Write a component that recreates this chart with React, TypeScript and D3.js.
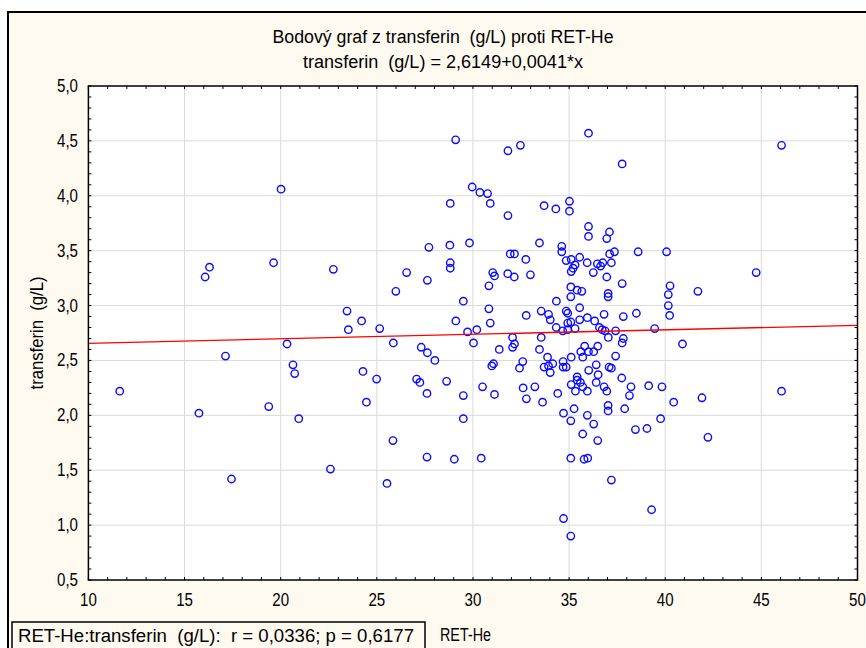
import React from "react";
import * as d3 from "d3";

// RET-He values (x) and matching transferin concentrations in g/L (y)
const retHe: number[] = [
  20.02, 16.07, 16.3, 19.63, 22.74, 20.33, 17.13, 20.64, 20.73, 11.63, 19.38, 15.75, 20.94, 22.59, 17.44,
  29.1, 31.82, 32.47, 29.96, 30.36, 30.76, 30.9, 28.82, 31.82, 29.82, 28.8, 27.71, 31.94, 32.16, 26.55,
  28.82, 28.82, 31.03, 31.12, 31.81, 32.15, 27.63,
  30.83, 25.99, 29.5, 23.45, 30.83, 24.21, 29.11, 30.9, 23.52, 25.15, 29.72, 30.2, 25.86, 30.03,
  32.06, 32.16, 32.06, 31.37, 27.31, 27.63, 28.02, 24.28, 30.98, 31.07, 32.42, 24.99, 27.07, 27.24,
  28.63, 30.5, 27.61, 29.5, 31.12, 24.46, 29.5, 25.84, 27.61, 29.03, 30.43, 25.53,
  36.01, 37.76, 35.02, 33.7, 34.31, 35.02, 36.01, 36.01, 37.1, 36.96, 33.46, 34.62, 34.62, 32.75,
  34.85, 35.11, 35.55, 35.31, 35.21, 35.11, 35.94, 36.26, 36.47, 36.64, 36.75, 37.2, 37.11, 37.36,
  38.59, 40.07, 32.99, 36.96,
  37.76, 40.25, 40.16, 41.7, 35.09, 35.42, 35.66, 37.03, 37.03, 35.09, 34.34, 40.16, 40.23, 35.55,
  32.77, 33.55, 33.93, 34.02, 34.85, 34.93, 35.95, 35.55, 36.82, 37.82, 38.5, 36.33, 35.09, 34.93,
  35.31, 34.93, 34.67, 34.33, 36.58, 36.72, 36.87, 37.42, 39.45, 33.55, 37.04, 37.82, 37.76, 40.9,
  33.46, 35.81, 35.61, 36.01, 36.28, 36.49, 35.71, 35.11, 37.42, 33.88, 32.59, 34.15, 33.93, 33.7,
  34.69, 34.69, 34.85, 34.02, 36.02, 36.41, 37.08, 37.2, 36.51, 35.42, 35.42, 37.74, 35.11, 35.59,
  35.71, 36.41, 36.82, 36.96, 38.22, 39.14, 39.83, 32.61, 33.22, 32.78, 33.62, 34.41, 35.33, 35.95,
  38.14, 40.44, 41.91, 37.03, 37.03, 37.89, 35.26, 34.71, 35.09, 35.95, 36.28, 39.76, 38.45, 39.05,
  35.71, 36.49, 42.22,
  35.09, 35.78, 35.97, 37.2, 39.29, 34.71, 35.09,
  46.05, 44.73, 46.05,
];

const transferin: number[] = [
  4.06, 3.26, 3.35, 3.39, 3.33, 2.65, 2.54, 2.46, 2.38, 2.22, 2.08, 2.02, 1.97, 1.51, 1.42,
  4.51, 4.41, 4.46, 4.08, 4.03, 4.02, 3.93, 3.93, 3.82, 3.57, 3.55, 3.53, 3.47, 3.47, 3.3,
  3.39, 3.34, 3.3, 3.27, 3.29, 3.26, 3.23,
  3.18, 3.13, 3.04, 2.95, 2.97, 2.86, 2.86, 2.84, 2.78, 2.79, 2.76, 2.78, 2.66, 2.66,
  2.71, 2.65, 2.62, 2.6, 2.62, 2.57, 2.5, 2.4, 2.45, 2.47, 2.43, 2.33, 2.33, 2.3,
  2.31, 2.26, 2.2, 2.18, 2.19, 2.12, 1.97, 1.77, 1.62, 1.6, 1.61, 1.38,
  4.57, 4.29, 3.95, 3.91, 3.88, 3.86, 3.72, 3.63, 3.67, 3.61, 3.57, 3.54, 3.49, 3.42,
  3.41, 3.42, 3.44, 3.37, 3.34, 3.31, 3.39, 3.3, 3.38, 3.36, 3.39, 3.39, 3.47, 3.49,
  3.49, 3.49, 3.28, 3.26,
  3.2, 3.18, 3.1, 3.13, 3.17, 3.14, 3.13, 3.11, 3.08, 3.08, 3.04, 3.0, 2.91, 2.98,
  2.91, 2.95, 2.92, 2.87, 2.95, 2.93, 2.89, 2.87, 2.92, 2.9, 2.93, 2.86, 2.85, 2.84,
  2.79, 2.78, 2.77, 2.8, 2.8, 2.78, 2.77, 2.77, 2.79, 2.71, 2.71, 2.7, 2.66, 2.65,
  2.6, 2.63, 2.58, 2.58, 2.58, 2.63, 2.53, 2.53, 2.54, 2.53, 2.49, 2.47, 2.45, 2.44,
  2.49, 2.44, 2.44, 2.39, 2.41, 2.46, 2.44, 2.43, 2.37, 2.35, 2.32, 2.34, 2.28, 2.3,
  2.26, 2.3, 2.26, 2.22, 2.26, 2.27, 2.26, 2.25, 2.26, 2.15, 2.12, 2.2, 2.22, 2.22,
  2.18, 2.12, 2.16, 2.09, 2.04, 2.06, 2.06, 2.02, 1.95, 2.0, 1.92, 1.97, 1.87, 1.88,
  1.83, 1.77, 1.8,
  1.61, 1.6, 1.61, 1.41, 1.14, 1.06, 0.9,
  4.46, 3.3, 2.22,
];

const xTicks: number[] = [10, 15, 20, 25, 30, 35, 40, 45, 50];
const yTicks: number[] = [0.5, 1.0, 1.5, 2.0, 2.5, 3.0, 3.5, 4.0, 4.5, 5.0];

// Fitted line: transferin = 2.6149 + 0.0041 * RET-He
const fitIntercept = 2.6149;
const fitSlope = 0.0041;

const titleText = "Bodový graf z transferin  (g/L) proti RET-He";
const subtitleText = "transferin  (g/L) = 2,6149+0,0041*x";
const xLabel = "RET-He";
const yLabel = "transferin  (g/L)";
const statsText = "RET-He:transferin  (g/L):  r = 0,0336; p = 0,6177";

const W = 866;
const H = 648;
const FONT = "'Liberation Sans', Arial, sans-serif";
const FS = 18;
const NARROW = 0.84;

type LabelProps = {
  x: number;
  y: number;
  text: string;
  anchor?: "start" | "middle" | "end";
  rotate?: number;
  width?: number;
};

// Condensed text: horizontally squeezed, or fitted to a given width
function Label({ x, y, text, anchor = "start", rotate = 0, width }: LabelProps) {
  const t = `translate(${x},${y})${rotate ? ` rotate(${rotate})` : ""}${width ? "" : ` scale(${NARROW},1)`}`;
  return (
    <text
      transform={t}
      textAnchor={anchor}
      fontSize={FS}
      fill="#000"
      style={{ whiteSpace: "pre" }}
      textLength={width}
      lengthAdjust={width ? "spacingAndGlyphs" : undefined}
    >
      {text}
    </text>
  );
}

export default function App() {
  const x = d3.scaleLinear().domain([10, 50]).range([88.4, 857.5]);
  const y = d3.scaleLinear().domain([0.5, 5]).range([580, 86]);
  const [x0, x1] = x.range();
  const [yb, yt] = y.range();

  const fmt = (v: number) => v.toFixed(1).replace(".", ",");
  const xMinor = d3.range(10, 50.001, 1);
  const yMinor = d3.range(0, 46).map((i) => 0.5 + i * 0.1);

  const fitLine = d3
    .line<number>()
    .x((v) => x(v))
    .y((v) => y(fitIntercept + fitSlope * v));

  return (
    <svg
      width={W}
      height={H}
      style={{ position: "absolute", left: 0, top: 0, display: "block" }}
      fontFamily={FONT}
    >
      <rect x={0} y={0} width={W} height={H} fill="#ffffff" />
      {/* outer panel */}
      <rect x={8} y={12} width={W + 20} height={H + 20} fill="#fffaf0" stroke="#000" strokeWidth={2} />

      <Label x={443} y={43} text={titleText} anchor="middle" width={341} />
      <Label x={443} y={68} text={subtitleText} anchor="middle" width={280} />

      {/* plot area */}
      <rect x={x0} y={yt} width={x1 - x0} height={yb - yt} fill="#ffffff" />
      {xTicks.slice(1, -1).map((t) => (
        <line key={`gx${t}`} x1={x(t)} x2={x(t)} y1={yt} y2={yb} stroke="#dadada" strokeWidth={1} />
      ))}
      {yTicks.slice(1, -1).map((t) => (
        <line key={`gy${t}`} x1={x0} x2={x1} y1={y(t)} y2={y(t)} stroke="#dadada" strokeWidth={1} />
      ))}

      {/* points */}
      <g fill="none" stroke="#0a0aff" strokeWidth={1.4}>
        {retHe.map((v, i) => (
          <circle key={i} cx={x(v)} cy={y(transferin[i])} r={3.7} />
        ))}
      </g>

      {/* regression line */}
      <path d={fitLine([10, 50]) ?? ""} fill="none" stroke="#ff0000" strokeWidth={1.3} />

      {/* minor and major ticks, pointing inward */}
      <g stroke="#000" strokeWidth={1}>
        {xMinor.map((t) => (
          <React.Fragment key={`tx${t}`}>
            <line x1={x(t)} x2={x(t)} y1={yt} y2={yt + 3} />
            <line x1={x(t)} x2={x(t)} y1={yb} y2={yb - 3} />
          </React.Fragment>
        ))}
        {yMinor.map((t) => (
          <React.Fragment key={`ty${t.toFixed(1)}`}>
            <line x1={x0} x2={x0 + 3} y1={y(t)} y2={y(t)} />
            <line x1={x1} x2={x1 - 3} y1={y(t)} y2={y(t)} />
          </React.Fragment>
        ))}
      </g>
      <rect x={x0} y={yt} width={x1 - x0} height={yb - yt} fill="none" stroke="#000" strokeWidth={1.5} />

      {/* tick labels */}
      {xTicks.map((t) => (
        <Label key={`lx${t}`} x={x(t)} y={606} text={String(t)} anchor="middle" />
      ))}
      {yTicks.map((t) => (
        <Label key={`ly${t}`} x={78} y={y(t) + 6} text={fmt(t)} anchor="end" />
      ))}

      {/* axis titles */}
      <Label x={43} y={(yt + yb) / 2} text={yLabel} anchor="middle" rotate={-90} width={113} />
      <Label x={440} y={641} text={xLabel} width={51} />

      {/* correlation box */}
      <rect x={12} y={622} width={413} height={40} fill="#fffaf0" stroke="#000" strokeWidth={1.5} />
      <Label x={18} y={642} text={statsText} width={396} />
    </svg>
  );
}
